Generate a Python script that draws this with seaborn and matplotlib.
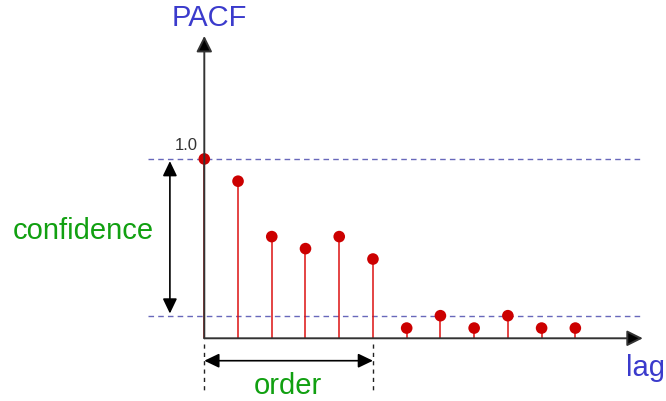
import pandas as pd
import matplotlib.pyplot as plt
import seaborn as sns

# values
lags = list(range(12))
pacf = [1.0, 0.876, 0.567, 0.500, 0.567, 0.442, 0.057, 0.126, 0.057, 0.126, 0.057, 0.057]
conf_upper = 1.0
conf_lower = 0.126
order = 5

df = pd.DataFrame({"lag": lags, "pacf": pacf})

sns.set_style("white")
plt.rcParams["font.family"] = ["Liberation Sans", "DejaVu Sans"]

W, H = 666, 402
fig = plt.figure(figsize=(W / 100, H / 100), dpi=100)
ax = fig.add_axes([0, 0, 1, 1])


def px(x, y):
    # pixel position -> axes fraction, for the labels
    return x / W, 1 - y / H


blue = "#3b3bcc"
green = "#11a011"
red = "#dd1111"
axis_col = "#333333"

# confidence bounds
ax.hlines([conf_upper, conf_lower], -1.67, 12.92, colors="#6868bb",
          linestyles=(0, (4, 3)), lw=1.0, zorder=1)

# stems + heads
ax.vlines(df["lag"], 0, df["pacf"], color=red, lw=1.1, zorder=2)
sns.scatterplot(data=df, x="lag", y="pacf", color="#cc0000", s=70,
                edgecolor="none", zorder=3, ax=ax, legend=False)
ax.set_xlim(-6.057, 13.688)
ax.set_ylim(-0.3497, 1.892)
ax.axis("off")

# axes with arrow heads
head = "-|>,head_length=0.8,head_width=0.4"
ax.annotate("", xy=(13.0, 0), xytext=(0, 0), zorder=4,
            arrowprops=dict(arrowstyle=head, fc="black", ec=axis_col, lw=1.4,
                            shrinkA=0, shrinkB=0, mutation_scale=12))
ax.annotate("", xy=(0, 1.686), xytext=(0, 0), zorder=4,
            arrowprops=dict(arrowstyle=head, fc="black", ec=axis_col, lw=1.4,
                            shrinkA=0, shrinkB=0, mutation_scale=12))

both = "<|-|>,head_length=0.75,head_width=0.36"
# confidence span arrow
ax.annotate("", xy=(-1.02, conf_lower + 0.012), xytext=(-1.02, conf_upper - 0.012),
            arrowprops=dict(arrowstyle=both, color="black", lw=1.2,
                            shrinkA=0, shrinkB=0, mutation_scale=12))

# order span arrow
ax.annotate("", xy=(order, -0.125), xytext=(0, -0.125),
            arrowprops=dict(arrowstyle=both, color="black", lw=1.2,
                            shrinkA=0, shrinkB=0, mutation_scale=12))
ax.vlines([0, order], -0.032, -0.31, colors="#222222", linestyles=(0, (3, 3)), lw=1.0)

# labels
ax.text(*px(198, 146), "1.0", ha="right", va="center", fontsize=12,
        color=axis_col, transform=ax.transAxes)
ax.text(*px(209.5, 18), "PACF", ha="center", va="center", fontsize=21,
        color=blue, transform=ax.transAxes)
ax.text(*px(645, 368), "lag", ha="center", va="center", fontsize=21,
        color=blue, transform=ax.transAxes)
ax.text(*px(83, 231), "confidence", ha="center", va="center", fontsize=21,
        color=green, transform=ax.transAxes)
ax.text(*px(288, 386), "order", ha="center", va="center", fontsize=21,
        color=green, transform=ax.transAxes)

fig.savefig("out.png", dpi=100)
